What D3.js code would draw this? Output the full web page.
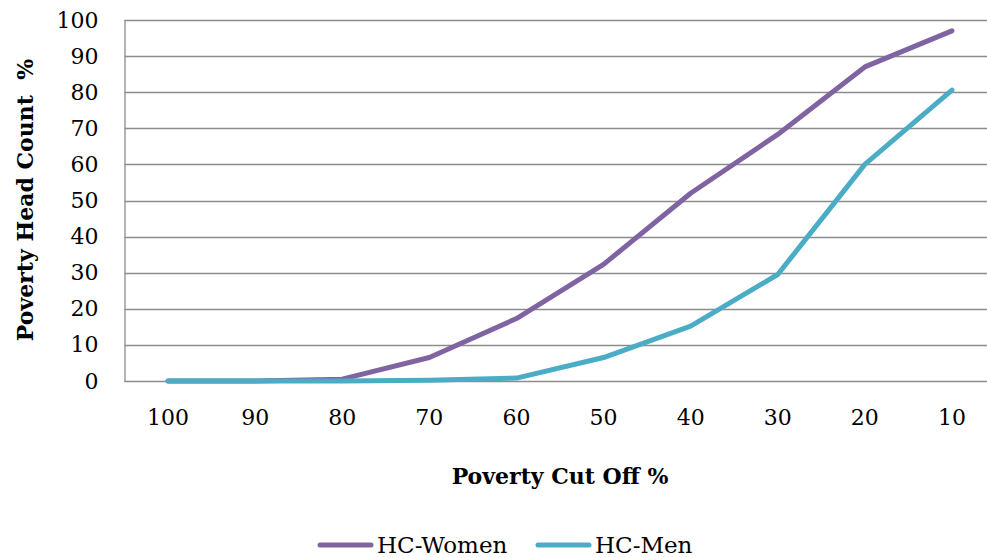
<!DOCTYPE html>
<html><head><meta charset="utf-8">
<script src="https://cdn.jsdelivr.net/npm/d3@7"></script>
<style>html,body{margin:0;padding:0;background:#fff;overflow:hidden}</style>
</head><body>
<svg id="c" width="987" height="558"></svg>
<script>
const categories = ["100","90","80","70","60","50","40","30","20","10"];
const women = [0, 0, 0.5, 6.5, 17.3, 32.3, 52, 68.3, 87, 97];
const men = [0, 0, 0, 0.2, 0.8, 6.5, 15.2, 29.5, 60, 80.6];
const yTicks = [0,10,20,30,40,50,60,70,80,90,100];
const seriesNames = ["HC-Women","HC-Men"];
const colors = ["#8064A2","#4BACC6"];

const svg = d3.select("#c");
const font = "'DejaVu Serif', serif";
const pLeft = 124.5, pTop = 20, pBottom = 381, pRight = 995.5;
const x = d3.scaleBand().domain(categories).range([pLeft, pRight]);
const y = d3.scaleLinear().domain([0,100]).range([pBottom, pTop]);

// gridlines
svg.append("g").selectAll("line").data(yTicks).join("line")
  .attr("x1", pLeft).attr("x2", pRight)
  .attr("y1", d=>Math.round(y(d))+0.5).attr("y2", d=>Math.round(y(d))+0.5)
  .attr("stroke", "#8c8c8c").attr("stroke-width", 1.3);
// y axis line
svg.append("line").attr("x1", pLeft+0.5).attr("x2", pLeft+0.5).attr("y1", pTop).attr("y2", pBottom+1)
  .attr("stroke", "#8c8c8c").attr("stroke-width", 1.3);

// y tick labels
const yAxis = d3.axisLeft(y).tickValues(yTicks).tickSize(0).tickPadding(26);
const gy = svg.append("g").attr("transform", `translate(${pLeft},0)`).call(yAxis);
gy.select(".domain").remove();
gy.selectAll("text").attr("font-family", font).attr("font-size", 22).attr("fill", "#000");

// x tick labels
const xAxis = d3.axisBottom(x).tickSize(0).tickPadding(28);
const gx = svg.append("g").attr("transform", `translate(0,${pBottom})`).call(xAxis);
gx.select(".domain").remove();
gx.selectAll("text").attr("font-family", font).attr("font-size", 22).attr("fill", "#000");

// lines
const line = d3.line().x((d,i)=>x(categories[i]) + x.bandwidth()/2).y(d=>y(d));
[women, men].forEach((s,k)=>{
  svg.append("path").datum(s).attr("d", line).attr("fill","none")
    .attr("stroke", colors[k]).attr("stroke-width", 5)
    .attr("stroke-linejoin","round").attr("stroke-linecap","round");
});

// axis titles
svg.append("text").attr("x", 560).attr("y", 484).attr("text-anchor","middle")
  .attr("font-family", font).attr("font-weight","bold").attr("font-size", 22)
  .text("Poverty Cut Off %");
svg.append("text").attr("transform", "translate(33,200) rotate(-90)").attr("text-anchor","middle")
  .attr("font-family", font).attr("font-weight","bold").attr("font-size", 22)
  .style("white-space","pre")
  .text("Poverty Head Count  %");

// legend
const legX = [318, 536];
seriesNames.forEach((n,k)=>{
  svg.append("line").attr("x1", legX[k]+2).attr("x2", legX[k]+53).attr("y1", 545).attr("y2", 545)
    .attr("stroke", colors[k]).attr("stroke-width", 5).attr("stroke-linecap","round");
  svg.append("text").attr("x", legX[k]+59).attr("y", 553).attr("font-family", font)
    .attr("font-size", 23).text(n);
});
</script>
</body></html>
